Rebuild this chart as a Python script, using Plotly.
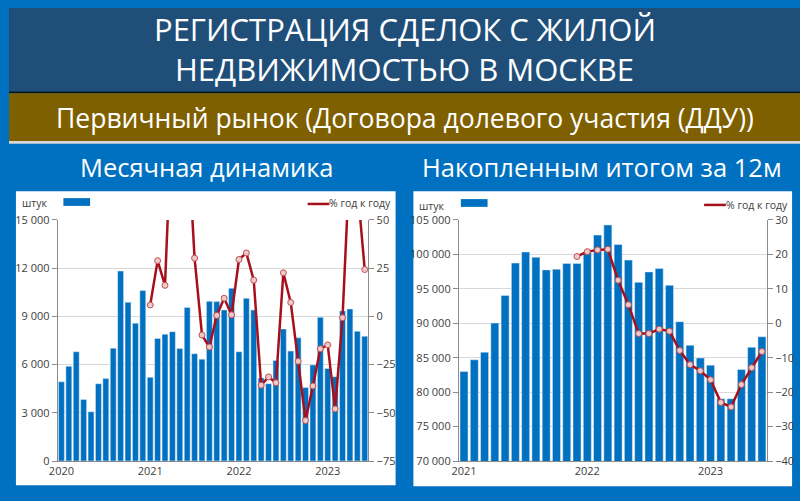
import plotly.graph_objects as go

# ---------------- DATA ----------------
years_m = ["2020", "2021", "2022", "2023"]
months_m = [f"{y}-{m:02d}" for y in (2020, 2021, 2022, 2023) for m in range(1, 13)][:42]
monthly_units = [4930, 5900, 6800, 3830, 3060, 4810, 5130, 7020, 11820, 9880, 8580, 10610,
                 5210, 7630, 7890, 8050, 7000, 9560, 6680, 6340, 9940, 9920, 9400, 10750,
                 6800, 10130, 9400, 5170, 4810, 6260, 8210, 6840, 7670, 4570, 5980, 8940,
                 5760, 5250, 9340, 9460, 8070, 7770]
monthly_yoy = [None] * 12 + [5.9, 28.9, 16.1, 110, 129, 99, 30.2, -9.7, -15.9, 0.5, 9.4, 0.8,
                             29.5, 32.9, 18.8, -35.7, -31.4, -34.4, 22.6, 7.2, -23.3, -54.0, -36.1, -16.8,
                             -14.8, -48.0, -0.7, 83, 68, 24.3]

years_r = ["2021", "2022", "2023"]
months_r = [f"{y}-{m:02d}" for y in (2021, 2022, 2023) for m in range(1, 13)][:30]
rolling_units = [83000, 84700, 85800, 90030, 94050, 98740, 100350, 99590, 97750, 97840, 98690, 98690,
                 100300, 102800, 104280, 101440, 99170, 95950, 97460, 97940, 95520, 90220, 86810, 84960,
                 83920, 79040, 79040, 83300, 86520, 88040]
rolling_yoy = [None] * 11 + [19.4, 20.8, 21.3, 21.5, 12.5, 5.4, -3.0, -3.0, -1.7, -2.3, -7.9, -12.0,
                             -13.8, -16.4, -23.0, -24.3, -17.8, -12.9, -8.2]

left_ticks = [0, 3000, 6000, 9000, 12000, 15000]
left_ticktext = ["0", "3 000", "6 000", "9 000", "12 000", "15 000"]
left_r_ticks = [-75, -50, -25, 0, 25, 50]
right_ticks = [70000, 75000, 80000, 85000, 90000, 95000, 100000, 105000]
right_ticktext = ["70 000", "75 000", "80 000", "85 000", "90 000", "95 000", "100 000", "105 000"]
right_r_ticks = [-40, -30, -20, -10, 0, 10, 20, 30]

title1 = "РЕГИСТРАЦИЯ СДЕЛОК С ЖИЛОЙ"
title2 = "НЕДВИЖИМОСТЬЮ В МОСКВЕ"
subtitle = "Первичный рынок (Договора долевого участия (ДДУ))"
panel_left = "Месячная динамика"
panel_right = "Накопленным итогом за 12м"
unit_label = "штук"
yoy_label = "% год к году"

# ---------------- STYLE ----------------
W, H = 800, 501
BLUE = "#0070C0"
DARK = "#1F4E79"
GOLD = "#7F6000"
RED = "#A80F1C"
FONT = "Open Sans"
TICKF = dict(family=FONT, size=11, color="#404040")


def px(x):
    return x / W


def py(y):
    return 1 - y / H


fig = go.Figure()

fig.add_trace(go.Bar(x=months_m, y=monthly_units, marker_color=BLUE, width=0.8,
                     xaxis="x", yaxis="y", showlegend=False))
fig.add_trace(go.Scatter(x=months_m, y=monthly_yoy, mode="lines+markers",
                         line=dict(color=RED, width=2.5),
                         marker=dict(size=6, color="#EDC9C9", line=dict(color="#C05050", width=1)),
                         xaxis="x", yaxis="y2", showlegend=False, connectgaps=False))
fig.add_trace(go.Bar(x=months_r, y=rolling_units, marker_color=BLUE, width=0.78,
                     xaxis="x3", yaxis="y3", showlegend=False))
fig.add_trace(go.Scatter(x=months_r, y=rolling_yoy, mode="lines+markers",
                         line=dict(color=RED, width=2.5),
                         marker=dict(size=6, color="#EDC9C9", line=dict(color="#C05050", width=1)),
                         xaxis="x3", yaxis="y4", showlegend=False))

ydom = [py(467), py(218.5)]
axcommon = dict(showline=True, linecolor="#8C8C8C", linewidth=1, tickfont=TICKF)

fig.update_layout(
    width=W, height=H, margin=dict(l=0, r=0, t=0, b=0),
    paper_bgcolor=BLUE, plot_bgcolor="white",
    xaxis=dict(domain=[px(49.3), px(363.5)], type="category", range=[-0.5, 41.5],
               tickvals=[f"{y}-01" for y in years_m], ticktext=years_m, ticks="",
               anchor="y", **axcommon),
    yaxis=dict(domain=ydom, range=[0, 15000], tickvals=left_ticks, ticktext=left_ticktext,
               ticks="outside", ticklen=5, tickcolor="#8C8C8C", gridcolor="#D9D9D9",
               zeroline=False, anchor="x", **axcommon),
    yaxis2=dict(domain=ydom, range=[-75, 50], tickvals=left_r_ticks, overlaying="y", side="right",
                ticks="outside", ticklen=5, tickcolor="#8C8C8C", showgrid=False, zeroline=False,
                anchor="x", **axcommon),
    xaxis3=dict(domain=[px(455), px(766.7)], type="category", range=[-0.5, 29.5],
                tickvals=[f"{y}-01" for y in years_r], ticktext=years_r, ticks="",
                anchor="y3", **axcommon),
    yaxis3=dict(domain=ydom, range=[70000, 105000], tickvals=right_ticks, ticktext=right_ticktext,
                ticks="outside", ticklen=5, tickcolor="#8C8C8C", gridcolor="#D9D9D9",
                zeroline=False, anchor="x3", **axcommon),
    yaxis4=dict(domain=ydom, range=[-40, 30], tickvals=right_r_ticks, overlaying="y3", side="right",
                ticks="outside", ticklen=5, tickcolor="#8C8C8C", showgrid=False, zeroline=False,
                anchor="x3", **axcommon),
)

shapes = []


def rect(x0, y0, x1, y1, color, layer="below"):
    shapes.append(dict(type="rect", xref="paper", yref="paper", x0=px(x0), x1=px(x1),
                       y0=py(y1), y1=py(y0), fillcolor=color, line=dict(width=0), layer=layer))


rect(0, 0, 800, 86, DARK)
rect(0, 86, 800, 88, "#101010")
rect(0, 88, 800, 137, GOLD)
rect(0, 137, 800, 140, "#D8D8D8")
rect(7, 189, 391, 492, "white")
rect(409, 189, 792, 493, "white")
# legend swatches
rect(55, 196, 82, 204, BLUE, "above")
rect(457, 197, 484, 205, BLUE, "above")
shapes.append(dict(type="line", xref="paper", yref="paper", x0=px(302), x1=px(324), y0=py(202), y1=py(202),
                   line=dict(color=RED, width=2.5)))
shapes.append(dict(type="line", xref="paper", yref="paper", x0=px(703), x1=px(725), y0=py(203), y1=py(203),
                   line=dict(color=RED, width=2.5)))
fig.update_layout(shapes=shapes)

ann = []


def text(x, y, s, size, color="white", xanchor="center"):
    ann.append(dict(xref="paper", yref="paper", x=px(x), y=py(y), text=s, showarrow=False,
                    xanchor=xanchor, yanchor="middle", font=dict(family=FONT, size=size, color=color)))


text(400, 22, title1, 31)
text(400, 63, title2, 31)
text(400, 113, subtitle, 26.5)
text(200, 164, panel_left, 25.5)
text(600, 164, panel_right, 25.5)
text(11, 201, unit_label, 10.5, "#404040", "left")
text(413, 204, unit_label, 10.5, "#404040", "left")
text(388, 201, yoy_label, 10.5, "#404040", "right")
text(790, 203, yoy_label, 10.5, "#404040", "right")
fig.update_layout(annotations=ann)

fig.write_html("out.html",
               config={"displayModeBar": False, "staticPlot": True},
               post_script="document.body.style.margin='0';document.body.style.overflow='hidden';")
